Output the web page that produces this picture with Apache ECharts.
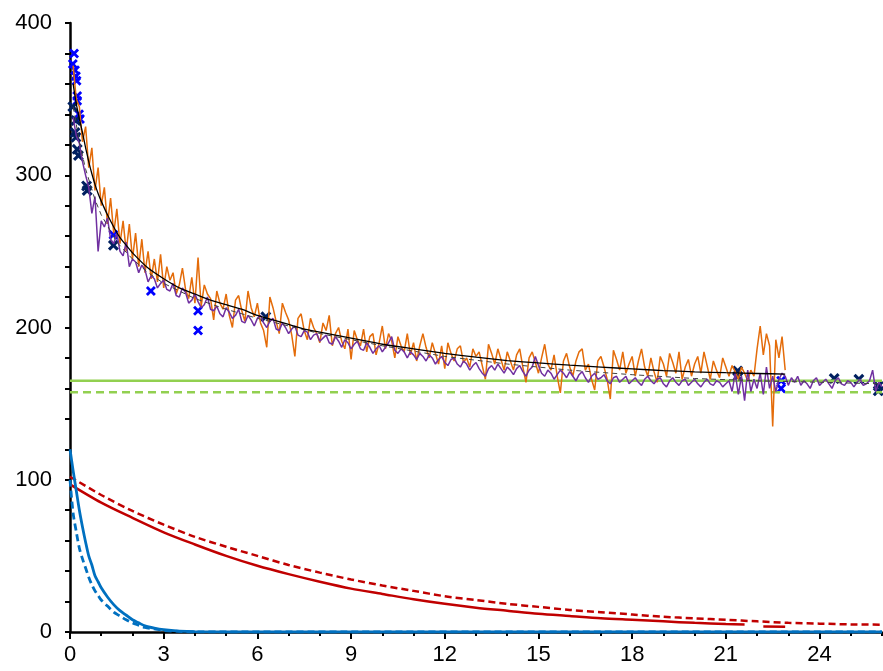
<!DOCTYPE html>
<html>
<head>
<meta charset="utf-8">
<script src="https://cdn.jsdelivr.net/npm/echarts@6/dist/echarts.min.js"></script>
<style>
  html, body { margin: 0; padding: 0; background: #fff; }
  #container { width: 883px; height: 671px; }
</style>
</head>
<body>
<div id="container"></div>
<script>
// x ticks / y ticks
var xTicks = [0, 3, 6, 9, 12, 15, 18, 21, 24];
var yTicks = [0, 100, 200, 300, 400];

// noisy measured traces, sampled every 0.1 starting at x = 0.1
var traceStep = 0.1;
var orangeStart = 0.1;
var orangeY = [
  372, 350, 345, 322, 332, 305, 318, 290, 305, 280,
  292, 268, 285, 262, 278, 255, 270, 250, 268, 245,
  262, 240, 258, 236, 250, 232, 245, 230, 248, 226,
  240, 231, 236, 222, 228, 239, 225, 219, 233, 216,
  246, 214, 228, 222, 219, 205, 224, 216, 212, 222,
  208, 200, 218, 221, 211, 204, 224, 213, 207, 216,
  203, 198, 187, 220, 213, 204, 196, 216, 210, 205,
  195, 181, 206, 209, 198, 192, 206, 200, 196, 190,
  203, 198, 208, 188, 196, 200, 191, 186, 199, 179,
  198, 192, 188, 199, 184, 194, 196, 182, 190, 201,
  186, 196, 191, 180, 194, 188, 184, 196, 182, 190,
  178, 188, 196, 187, 180, 190, 183, 176, 188, 173,
  190, 183, 178, 186, 188, 177, 180, 174, 186, 181,
  184, 175, 166, 189, 183, 176, 186, 179, 172, 184,
  178, 172, 182, 186, 174, 164, 180, 184, 177, 170,
  180, 189, 176, 172, 182, 168, 157, 178, 183, 174,
  168, 178, 184, 186, 172, 176, 166, 159, 178, 181,
  174, 166, 153, 185, 179, 172, 184, 170, 176, 181,
  168, 178, 186, 174, 168, 180, 171, 164, 181, 176,
  168, 183, 177, 170, 184, 166, 174, 179, 168, 176,
  181, 170, 184, 175, 166, 178, 172, 167, 180, 174,
  168, 175, 171, 166, 174, 170, 165, 172, 168, 186,
  201, 182, 196, 188, 135, 192, 180, 194, 172
];
var purpleStart = 0.1;
var purpleY = [
  338, 326, 321, 309, 300, 292, 275, 286, 250, 270,
  266, 272, 258, 255, 262, 250, 247, 256, 240, 245,
  243, 236, 241, 238, 230, 234, 232, 226, 229, 231,
  225, 224, 229, 221, 220, 226, 223, 216, 218, 222,
  217, 213, 215, 220, 212, 211, 214, 209, 207, 213,
  210, 206, 208, 212, 204, 203, 208, 205, 201, 206,
  208, 203, 200, 204, 206, 199, 198, 203, 200, 196,
  199, 201, 195, 194, 198, 197, 192, 195, 196, 191,
  193, 195, 190, 189, 194, 191, 187, 192, 190, 186,
  189, 191, 186, 185, 190, 187, 183, 186, 188, 184,
  187, 190, 194, 185, 183, 186, 184, 180, 184, 182,
  179, 183, 181, 178, 182, 180, 176, 179, 181, 177,
  175, 179, 180, 176, 174, 178, 176, 172, 175, 177,
  173, 170, 168, 173, 175, 172, 176, 173, 170, 174,
  172, 169, 173, 175, 171, 168, 172, 174, 181, 175,
  170, 168, 172, 170, 166, 169, 172, 170, 167, 171,
  168, 165, 169, 171, 167, 164, 168, 170, 166, 167,
  169, 165, 163, 167, 168, 164, 166, 168, 163, 165,
  167, 164, 162, 166, 168, 165, 163, 166, 167, 163,
  161, 165, 167, 164, 162, 165, 166, 162, 164, 166,
  163, 161, 164, 166, 163, 162, 165, 164, 161, 163,
  165, 158, 170, 156, 168, 152, 172, 158, 166, 160,
  170, 156, 174, 160, 168, 158, 166, 170, 168, 162,
  167, 164, 168, 162, 165, 163, 160, 165, 167, 162,
  164, 166, 163, 160, 165, 167, 163, 162, 165, 164,
  161, 164, 166, 162, 163, 165, 172, 158, 164, 161
];

// fitted curve for the orange trace
var fitX = [0.1, 0.2, 0.3, 0.4, 0.5, 0.6, 0.7, 0.8, 0.9, 1.0, 1.2, 1.4, 1.6, 1.8, 2.0, 2.5, 3.0, 3.5, 4.0, 4.5,
            5.0, 5.5, 6.0, 6.5, 7.0, 7.5, 8.0, 8.5, 9.0, 9.5, 10, 11, 12, 13, 14, 15, 16, 17, 18, 19, 20, 21, 22, 22.9];
var fitY = [360, 347, 337, 328, 318, 309, 301, 294, 288, 283, 274, 266, 259, 254, 249, 239, 232, 226, 222, 218,
            215, 212, 208, 205, 202, 199, 197, 195, 193, 191, 189, 186, 183, 180.5, 178.3, 176.7, 175.3, 174, 172.8, 171.7, 170.9, 170.3, 169.8, 169.4];

// fitted curve for the purple trace
var fit2X = [0.1, 0.3, 0.5, 0.8, 1.0, 1.5, 2, 2.5, 3, 4, 5, 6, 7, 8, 9, 10, 12, 14, 16, 18, 20, 22, 24, 26];
var fit2Y = [345, 322, 304, 284, 274, 256, 245, 236, 229, 219, 212, 206, 201, 196, 192, 188, 181, 176, 172, 169, 166.5, 165, 164, 163];

// measured points
var bluePoints = [
  [0.13, 380], [0.09, 373], [0.16, 369], [0.19, 365], [0.21, 362], [0.23, 352], [0.23, 349],
  [0.29, 340], [0.32, 337], [1.39, 261], [2.59, 224], [4.1, 211], [4.1, 198], [22.77, 165], [22.77, 160]
];
var navyPoints = [
  [0.09, 345], [0.19, 336], [0.16, 328], [0.19, 325], [0.23, 317], [0.27, 313], [0.53, 293], [0.55, 290],
  [1.39, 254], [6.27, 207], [21.38, 171.5], [21.38, 168], [24.47, 166.5], [25.26, 166], [25.88, 161.6], [25.88, 158.4]
];

// reference levels
var greenSolid = 165;
var greenDashed = 157.5;

// decay curves
var redSolidX = [0, 1, 2, 3, 4, 5, 6, 7, 8, 9, 10, 11, 12, 13, 14, 15, 16, 17, 18, 19, 20, 21, 21.6, 21.9, 22.2, 22.9];
var redSolidY = [97, 85, 75, 65.5, 57.5, 50, 43.5, 38, 33, 28.5, 25, 21.5, 18.5, 16, 14, 12, 10.5, 9, 8, 7, 6, 5.3, 5, null, 3.6, 3.4];
var redDashX = [0, 1, 2, 3, 4, 5, 6, 7, 8, 9, 10, 11, 12, 13, 14, 15, 16, 17, 18, 19, 20, 21, 22, 23, 24, 25, 26];
var redDashY = [102, 90, 79.5, 70.5, 62.5, 56, 50, 44, 39, 34.5, 30.5, 27, 23.5, 21, 18.5, 16.5, 14.5, 13, 11.5, 10, 9, 8, 7, 6, 5.5, 5, 4.8];
var blueSolidX = [0, 0.1, 0.2, 0.3, 0.4, 0.5, 0.6, 0.7, 0.8, 0.9, 1.0, 1.2, 1.4, 1.6, 1.8, 2.0, 2.2, 2.4, 2.7, 3.0, 3.5, 4, 5, 26];
var blueSolidY = [120, 106, 93, 80, 69, 59, 50, 44, 37, 33, 29, 23, 18, 14, 11, 8, 6, 4, 2.5, 1.5, 0.6, 0.2, 0, 0];
var blueDashX = [0, 0.1, 0.2, 0.3, 0.4, 0.5, 0.6, 0.7, 0.8, 0.9, 1.0, 1.2, 1.4, 1.6, 1.8, 2.0, 2.2, 2.4, 2.7, 3.0, 3.5, 4, 26];
var blueDashY = [100, 78, 66, 55, 48, 42, 36, 31, 27, 24, 21, 17, 13, 10.5, 8, 6, 4.5, 3, 2, 1, 0.4, 0, 0];

function zip(xs, ys) {
  return xs.map(function (x, i) { return [x, ys[i]]; });
}
function trace(start, ys) {
  return ys.map(function (y, i) { return [+(start + i * traceStep).toFixed(2), y]; });
}

var crossPath = 'path://M2,0 L5,3 L8,0 L10,2 L7,5 L10,8 L8,10 L5,7 L2,10 L0,8 L3,5 L0,2 Z';
var font = 'Liberation Sans, Arial, sans-serif';

var myChart = echarts.init(document.getElementById('container'));

myChart.setOption({
  animation: false,
  grid: { left: 70, right: 1, top: 23, bottom: 39, containLabel: false },
  xAxis: [{
    type: 'value', min: 0, max: 26, interval: 3,
    axisLine: { onZero: false, lineStyle: { color: '#000', width: 2.5 } },
    axisTick: { show: true, length: 7, lineStyle: { color: '#000', width: 2 } },
    axisLabel: { fontSize: 22, fontFamily: font, color: '#000', margin: 12, showMaxLabel: false,
      formatter: function (v) { return xTicks.indexOf(v) >= 0 ? String(v) : ''; } },
    splitLine: { show: false }
  }, {
    type: 'value', min: 0, max: 26, interval: 1, position: 'bottom',
    axisLine: { show: false },
    axisTick: { show: true, length: 4, lineStyle: { color: '#000', width: 2 } },
    axisLabel: { show: false },
    splitLine: { show: false }
  }],
  yAxis: {
    type: 'value', min: 0, max: 400, interval: 100,
    axisLine: { show: true, lineStyle: { color: '#000', width: 2.5 } },
    axisTick: { show: true, length: 5, lineStyle: { color: '#000', width: 2 } },
    minorTick: { show: true, splitNumber: 5, length: 5, lineStyle: { color: '#000', width: 2 } },
    axisLabel: { fontSize: 22, fontFamily: font, color: '#000', margin: 18,
      formatter: function (v) { return yTicks.indexOf(v) >= 0 ? String(v) : ''; } },
    splitLine: { show: false }
  },
  series: [
    { type: 'line', name: 'level', symbol: 'none', lineStyle: { color: '#92D050', width: 2.5 },
      data: [[0, greenSolid], [26, greenSolid]] },
    { type: 'line', name: 'level dashed', symbol: 'none', lineStyle: { color: '#92D050', width: 2.5, type: [8, 5] },
      data: [[0, greenDashed], [26, greenDashed]] },
    { type: 'line', name: 'orange', symbol: 'none', lineStyle: { color: '#E46C0A', width: 1.5 },
      data: trace(orangeStart, orangeY) },
    { type: 'line', name: 'purple', symbol: 'none', lineStyle: { color: '#7030A0', width: 1.5 },
      data: trace(purpleStart, purpleY) },
    { type: 'line', name: 'fit2', symbol: 'none', lineStyle: { color: '#404040', width: 1, type: [5, 4] },
      data: zip(fit2X, fit2Y) },
    { type: 'line', name: 'fit', symbol: 'none', smooth: 0.2, lineStyle: { color: '#000', width: 1.3 },
      data: zip(fitX, fitY) },
    { type: 'scatter', name: 'blue pts', symbol: crossPath, symbolSize: 10, itemStyle: { color: '#0000FF', opacity: 1 },
      data: bluePoints },
    { type: 'scatter', name: 'navy pts', symbol: crossPath, symbolSize: 11, itemStyle: { color: '#002060', opacity: 1 },
      data: navyPoints },
    { type: 'line', name: 'red dashed', symbol: 'none', smooth: 0.3, lineStyle: { color: '#C00000', width: 2.5, type: [7, 4] },
      data: zip(redDashX, redDashY) },
    { type: 'line', name: 'red', symbol: 'none', smooth: 0.3, connectNulls: false, lineStyle: { color: '#C00000', width: 2.5 },
      data: zip(redSolidX, redSolidY) },
    { type: 'line', name: 'blue dashed', symbol: 'none', smooth: 0.3, lineStyle: { color: '#0070C0', width: 2.8, type: [7, 4] },
      data: zip(blueDashX, blueDashY) },
    { type: 'line', name: 'blue', symbol: 'none', smooth: 0.3, lineStyle: { color: '#0070C0', width: 2.8 },
      data: zip(blueSolidX, blueSolidY) }
  ]
});
</script>
</body>
</html>
